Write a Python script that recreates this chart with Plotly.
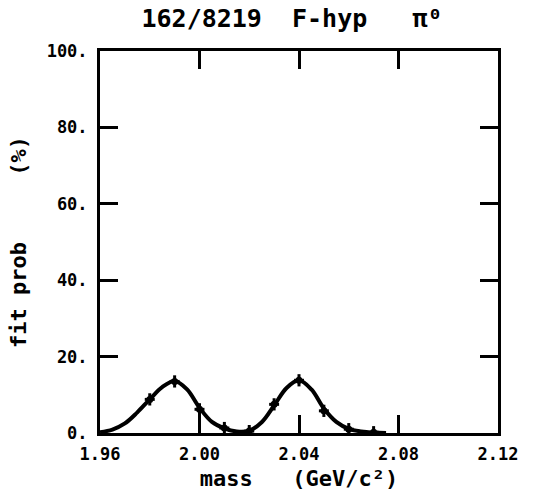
import plotly.graph_objects as go

# fitted curve
curve_mass = [1.960, 1.965, 1.970, 1.975, 1.980, 1.985, 1.990, 1.995, 2.000, 2.005,
              2.010, 2.015, 2.020, 2.025, 2.030, 2.035, 2.040, 2.045, 2.050, 2.055,
              2.060, 2.065, 2.070, 2.075]
curve_prob = [0.2, 0.9, 2.5, 5.4, 8.8, 12.0, 13.6, 11.4, 6.6, 2.9,
              1.2, 0.4, 0.6, 2.8, 7.2, 11.8, 13.8, 11.4, 6.4, 2.9,
              1.1, 0.4, 0.1, 0.0]

# data points with error bars
pt_mass = [1.98, 1.99, 2.00, 2.01, 2.02, 2.03, 2.04, 2.05, 2.06, 2.07]
pt_prob = [8.8, 13.5, 6.2, 1.3, 0.5, 7.5, 13.8, 5.8, 1.0, 0.2]
pt_err = [1.6, 1.6, 1.6, 1.6, 1.6, 1.6, 1.6, 1.6, 1.6, 1.6]
pt_xerr = [0.002] * 10

x_ticks = [1.96, 2.00, 2.04, 2.08, 2.12]
x_ticktext = ["1.96", "2.00", "2.04", "2.08", "2.12"]
y_ticks = [0, 20, 40, 60, 80, 100]
y_ticktext = ["0.", "20.", "40.", "60.", "80.", "100."]

FONT = "DejaVu Sans Mono"

fig = go.Figure()
fig.add_trace(go.Scatter(
    x=curve_mass, y=curve_prob, mode="lines",
    line=dict(color="black", width=4, shape="spline", smoothing=1.0),
    showlegend=False, hoverinfo="skip"))
fig.add_trace(go.Scatter(
    x=pt_mass, y=pt_prob, mode="markers",
    marker=dict(color="black", size=7, symbol="circle"),
    error_y=dict(type="data", array=pt_err, color="black", thickness=3, width=0),
    error_x=dict(type="data", array=pt_xerr, color="black", thickness=3, width=0),
    showlegend=False))

axis_common = dict(
    showgrid=False, zeroline=False, showline=True, linecolor="black", linewidth=3,
    mirror="ticks", ticks="inside", ticklen=18, tickwidth=3, tickcolor="black",
    tickfont=dict(family=FONT, size=17, color="black", weight="bold"),
)

fig.update_layout(
    width=534, height=500,
    margin=dict(l=100, r=36, t=51, b=61),
    paper_bgcolor="white", plot_bgcolor="white",
    title=dict(text="162/8219  F-hyp   π⁰", x=292 / 534, xref="container",
               xanchor="center", y=1 - 18 / 500, yref="container", yanchor="middle",
               font=dict(family=FONT, size=25, color="black", weight="bold")),
    xaxis=dict(range=[1.96, 2.12], tickvals=x_ticks, ticktext=x_ticktext,
               title=dict(text="mass   (GeV/c²)", standoff=8,
                          font=dict(family=FONT, size=22, color="black", weight="bold")),
               ticklabelstandoff=4, **axis_common),
    yaxis=dict(range=[0, 100], tickvals=y_ticks, ticktext=y_ticktext,
               title=dict(text="fit prob     (%)", standoff=14,
                          font=dict(family=FONT, size=22, color="black", weight="bold")),
               ticklabelstandoff=6, **axis_common),
)

fig.write_html("out.html")
